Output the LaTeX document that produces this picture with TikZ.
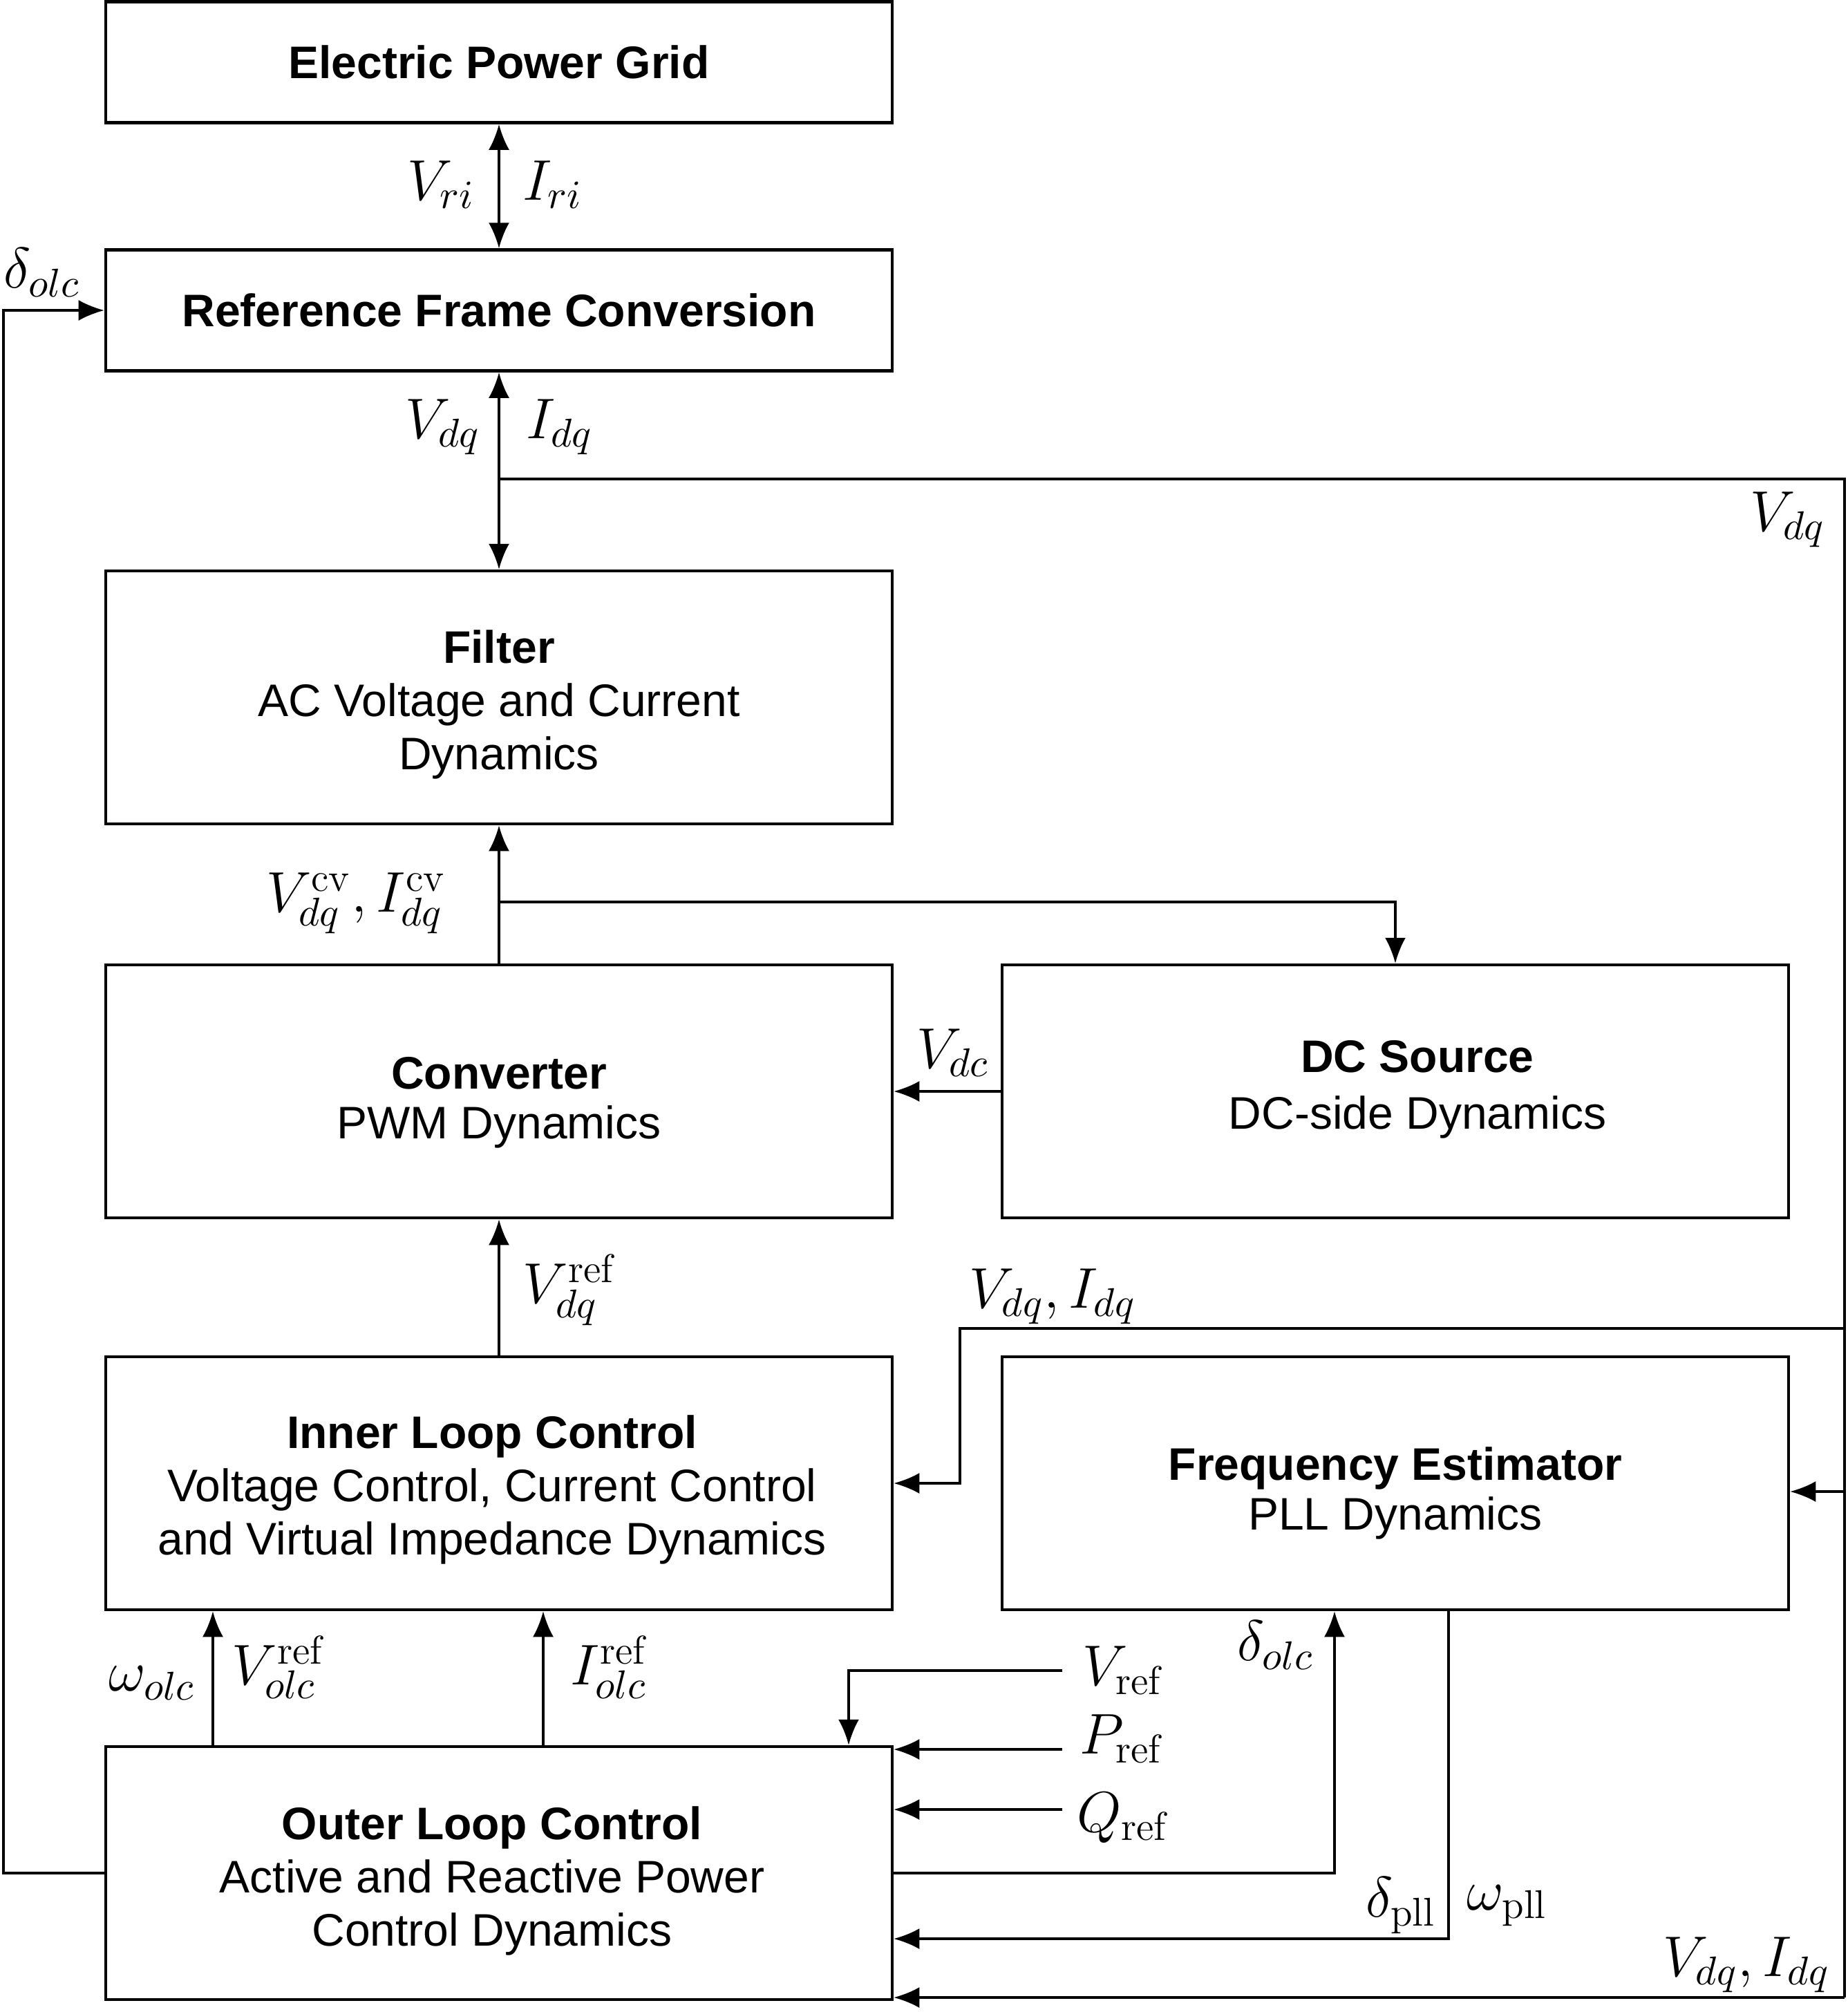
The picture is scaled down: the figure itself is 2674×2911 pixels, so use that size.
\RequirePackage{fix-cm}
\documentclass[tikz,border=0pt]{standalone}
\usepackage{fontspec}
\newfontfamily\helv{Liberation Sans}
\usetikzlibrary{arrows.meta}

\tikzset{
  blk/.style={draw, line width=0.9pt, inner sep=0pt, align=center, minimum width=227.6pt,
    font=\helv\fontsize{13.2}{15.4}\selectfont},
  blkthin/.style={blk, minimum height=35pt},
  blktall/.style={blk, minimum height=73.2pt},
  sig/.style={font=\fontsize{16.6}{20}\selectfont, inner sep=0pt},
  wire/.style={line width=0.65pt},
  arr/.style={wire, -{Latex[length=7.4pt,width=6pt]}},
  arrtwo/.style={wire, {Latex[length=7.4pt,width=6pt]}-{Latex[length=7.4pt,width=6pt]}}
}

\begin{document}
\begin{tikzpicture}[x=0.2pt,y=0.2pt,yscale=-1,xscale=1]
  \useasboundingbox (0,0) rectangle (2674,2911);

  %Blocks
  \node[blkthin] (grid) at (722,90) {\textbf{Electric Power Grid}};
  \node[blkthin] (rfc) at (722,449) {\textbf{Reference Frame Conversion}};
  \node[blktall] (filter) at (722,1009) {\rule{0pt}{13.6pt}\textbf{Filter}\\AC Voltage and Current\\Dynamics};
  \node[blktall] (conv) at (722,1579) {\rule{0pt}{15.6pt}\textbf{Converter}\\[-1pt]PWM Dynamics};
  \node[blktall] (dcs) at (2019,1579) {\hspace*{12.8pt}\textbf{DC Source}\\[1pt]\hspace*{12.8pt}DC-side Dynamics\rule[-4pt]{0pt}{0pt}};
  \node[blktall] (ilc) at (722,2146) {\rule{0pt}{13.2pt}\textbf{Inner Loop Control}\hspace*{4pt}\null\\Voltage Control, Current Control\hspace*{4pt}\null\\and Virtual Impedance Dynamics\hspace*{4pt}\null};
  \node[blktall] (fe) at (2019,2146) {\rule{0pt}{15.2pt}\textbf{Frequency Estimator}\\[-1pt]PLL Dynamics};
  \node[blktall] (olc) at (722,2710) {\rule{0pt}{14pt}\textbf{Outer Loop Control}\hspace*{4pt}\null\\Active and Reactive Power\hspace*{4pt}\null\\Control Dynamics\hspace*{4pt}\null};

  %Bend points
  \coordinate (vj) at (722,693);
  \coordinate (tr) at (2669,693);
  \coordinate (rb1) at (2669,1922);
  \coordinate (kb) at (1389,1922);
  \coordinate (rb2) at (2669,2158);
  \coordinate (br) at (2669,2890);
  \coordinate (cj) at (722,1305);
  \coordinate (wx) at (308,0);
  \coordinate (ix) at (786,0);
  \coordinate (vr) at (1537,2417);
  \coordinate (vrx) at (1228,0);
  \coordinate (pr) at (1537,2531);
  \coordinate (qr) at (1537,2618);
  \coordinate (dx) at (1931,0);
  \coordinate (px) at (2096,2805);
  \coordinate (lx) at (5,0);

  %Straight Lines
  \draw[arrtwo] (grid) -- (rfc);
  \draw[arrtwo] (rfc) -- (filter);
  \draw[wire] (vj) -- (tr) -- (rb1) -- (rb2) -- (br);
  \draw[arr] (br) -- (br -| olc.east);
  \draw[arr] (rb1) -- (kb) |- (ilc.east);
  \draw[arr] (rb2) -- (rb2 -| fe.east);
  \draw[arr] (conv) -- (filter);
  \draw[arr] (cj) -| (dcs.north);
  \draw[arr] (dcs) -- (conv);
  \draw[arr] (ilc) -- (conv);
  \draw[arr] (wx |- olc.north) -- (wx |- ilc.south);
  \draw[arr] (ix |- olc.north) -- (ix |- ilc.south);
  \draw[arr] (vr) -| (vrx |- olc.north);
  \draw[arr] (pr) -- (pr -| olc.east);
  \draw[arr] (qr) -- (qr -| olc.east);
  \draw[arr] (olc.east) -| (dx |- fe.south);
  \draw[arr] (px |- fe.south) -- (px) -- (px -| olc.east);
  \draw[arr] (olc.west) -| (lx |- rfc.west) -- (rfc.west);

  % Text Node
  \node[sig] (vri) at (638,267) {$V_{ri}$};
  \node[sig] (iri) at (800,267) {$I_{ri}$};
  \node[sig] (dolctop) at (61,394) {$\delta_{olc}$};
  \node[sig] (vdqa) at (641,618) {$V_{dq}$};
  \node[sig] (idqa) at (810,618) {$I_{dq}$};
  \node[sig] (vdqb) at (2587,752) {$V_{dq}$};
  \node[sig] (vicv) at (515,1307) {$V_{dq}^{\mathrm{cv}},I_{dq}^{\mathrm{cv}}$};
  \node[sig] (vdc) at (1379,1523) {$V_{dc}$};
  \node[sig] (vdqref) at (823,1866) {$V_{dq}^{\mathrm{ref}}$};
  \node[sig] (vidqa) at (1523,1876) {$V_{dq},I_{dq}$};
  \node[sig] (wolc) at (220,2435) {$\omega_{olc}$};
  \node[sig] (volcref) at (402,2412) {$V_{olc}^{\mathrm{ref}}$};
  \node[sig] (iolcref) at (881,2412) {$I_{olc}^{\mathrm{ref}}$};
  \node[sig] (vref) at (1624,2417) {$V_{\mathrm{ref}}$};
  \node[sig] (pref) at (1622,2516) {$P_{\mathrm{ref}}$};
  \node[sig] (qref) at (1624,2630) {$Q_{\mathrm{ref}}$};
  \node[sig] (dolcbot) at (1846,2380) {$\delta_{olc}$};
  \node[sig] (dpll) at (2027,2757) {$\delta_{\mathrm{pll}}$};
  \node[sig] (wpll) at (2181,2757) {$\omega_{\mathrm{pll}}$};
  \node[sig] (vidqb) at (2527,2843) {$V_{dq},I_{dq}$};

\end{tikzpicture}
\end{document}
